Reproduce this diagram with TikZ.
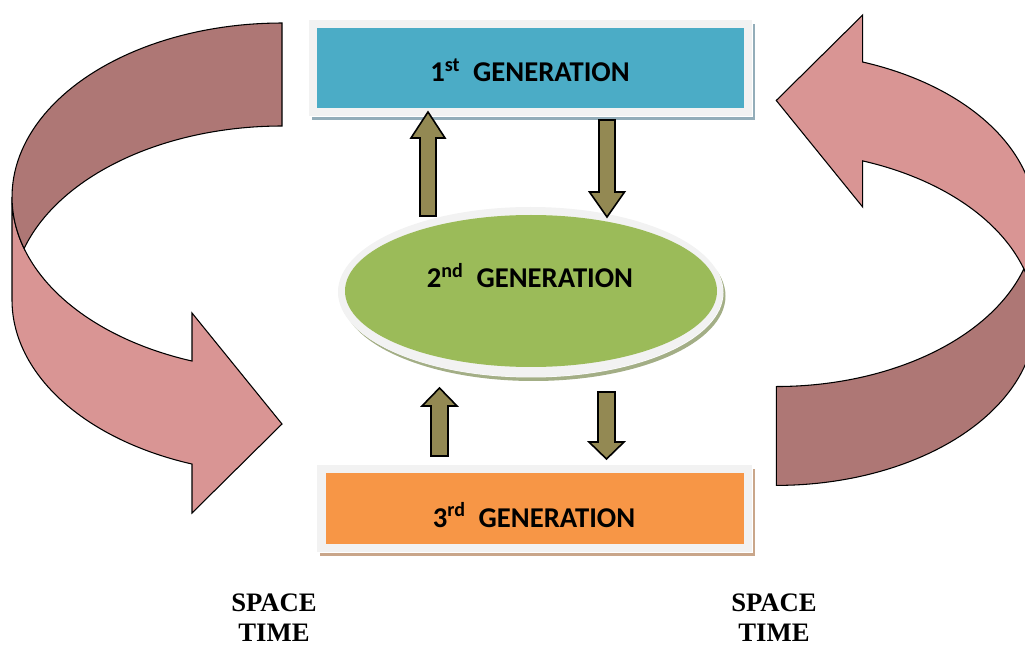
\documentclass[tikz,border=0pt]{standalone}
\usepackage{fontspec}
\setmainfont{Carlito}
\newfontfamily\timesf{Liberation Serif}
\definecolor{ribbonlight}{HTML}{D99594}
\definecolor{ribbondark}{HTML}{AE7775}
\definecolor{genblue}{HTML}{4BACC6}
\definecolor{gengreen}{HTML}{9BBB59}
\definecolor{genorange}{HTML}{F79646}
\definecolor{olivearr}{HTML}{938953}
\definecolor{framegray}{HTML}{F2F2F2}
\definecolor{shblue}{HTML}{93ADB9}
\definecolor{shgreen}{HTML}{A3AE86}
\definecolor{shorange}{HTML}{C9A68A}
\newcommand\ribbonarrow{%
  \fill[ribbonlight,draw=black,line width=0.8pt,line join=miter]
    plot[domain=180:109.47,variable=\t,samples=60] ({282+270*cos(\t)},{197+174*sin(\t)})
    -- (192,313) -- (282,424) -- (192,513)
    -- plot[domain=109.47:180,variable=\t,samples=60] ({282+270*cos(\t)},{300+174*sin(\t)})
    -- cycle;
  \fill[ribbondark,draw=black,line width=0.8pt,line join=miter]
    plot[domain=270:162.78,variable=\t,samples=60] ({282+270*cos(\t)},{197+174*sin(\t)})
    -- plot[domain=197.22:270,variable=\t,samples=60] ({282+270*cos(\t)},{300+174*sin(\t)})
    -- cycle;
}
\begin{document}
\begin{tikzpicture}[x=0.75pt,y=-0.75pt,
  gentext/.style={font=\fontsize{21.5}{25}\selectfont\bfseries,anchor=base,inner sep=0pt},
  sttext/.style={font=\fontsize{20}{22.5}\selectfont\timesf\bfseries,align=center,anchor=base,inner sep=0pt},
  blockarr/.style={fill=olivearr,draw=black,line width=1.2pt,line join=miter}]
\useasboundingbox (0,0) rectangle (1025,645);
\clip (0,0) rectangle (1025,645);
% curved ribbon arrows
\ribbonarrow
\begin{scope}[shift={(1047,507.5)},scale=-0.96]
\ribbonarrow
\end{scope}
% 1st generation box
\fill[shblue] (312,24) rectangle (755,120);
\fill[white] (309,20) rectangle (753,117);
\fill[framegray] (309,20) rectangle (752,116);
\fill[genblue] (317,28) rectangle (744,108);
\node[gentext] (g1) at (530,82) {1\textsuperscript{st}\ \ GENERATION};
% 2nd generation ellipse
\fill[shgreen] (533.5,296) ellipse [x radius=192,y radius=85];
\fill[white] (531,292.5) ellipse [x radius=192.5,y radius=85];
\fill[framegray] (530.5,292) ellipse [x radius=192.5,y radius=85];
\fill[gengreen] (531,291) ellipse [x radius=186,y radius=76];
\node[gentext] (g2) at (530,288) {2\textsuperscript{nd}\ \ GENERATION};
% 3rd generation box
\fill[shorange] (320,469) rectangle (755,556);
\fill[white] (317,465) rectangle (753,553);
\fill[framegray] (317,465) rectangle (752,552);
\fill[genorange] (326,473) rectangle (744,544);
\node[gentext] (g3) at (534,527) {3\textsuperscript{rd}\ \ GENERATION};
% block arrows
\draw[blockarr] (420,216) -- (420,138) -- (411,138) -- (428,112) -- (445,138) -- (436,138) -- (436,216) -- cycle;
\draw[blockarr] (599,120) -- (599,192) -- (589.5,192) -- (607,217) -- (624.5,192) -- (615,192) -- (615,120) -- cycle;
\draw[blockarr] (431,456) -- (431,406) -- (422,406) -- (439.5,388) -- (457,406) -- (448,406) -- (448,456) -- cycle;
\draw[blockarr] (598,392) -- (598,442) -- (589,442) -- (606.5,459) -- (624,442) -- (615,442) -- (615,392) -- cycle;
% labels
\node[sttext,text depth=0pt] (st1) at (274,641) {SPACE\\TIME};
\node[sttext,text depth=0pt] (st2) at (774,641) {SPACE\\TIME};
\end{tikzpicture}
\end{document}
